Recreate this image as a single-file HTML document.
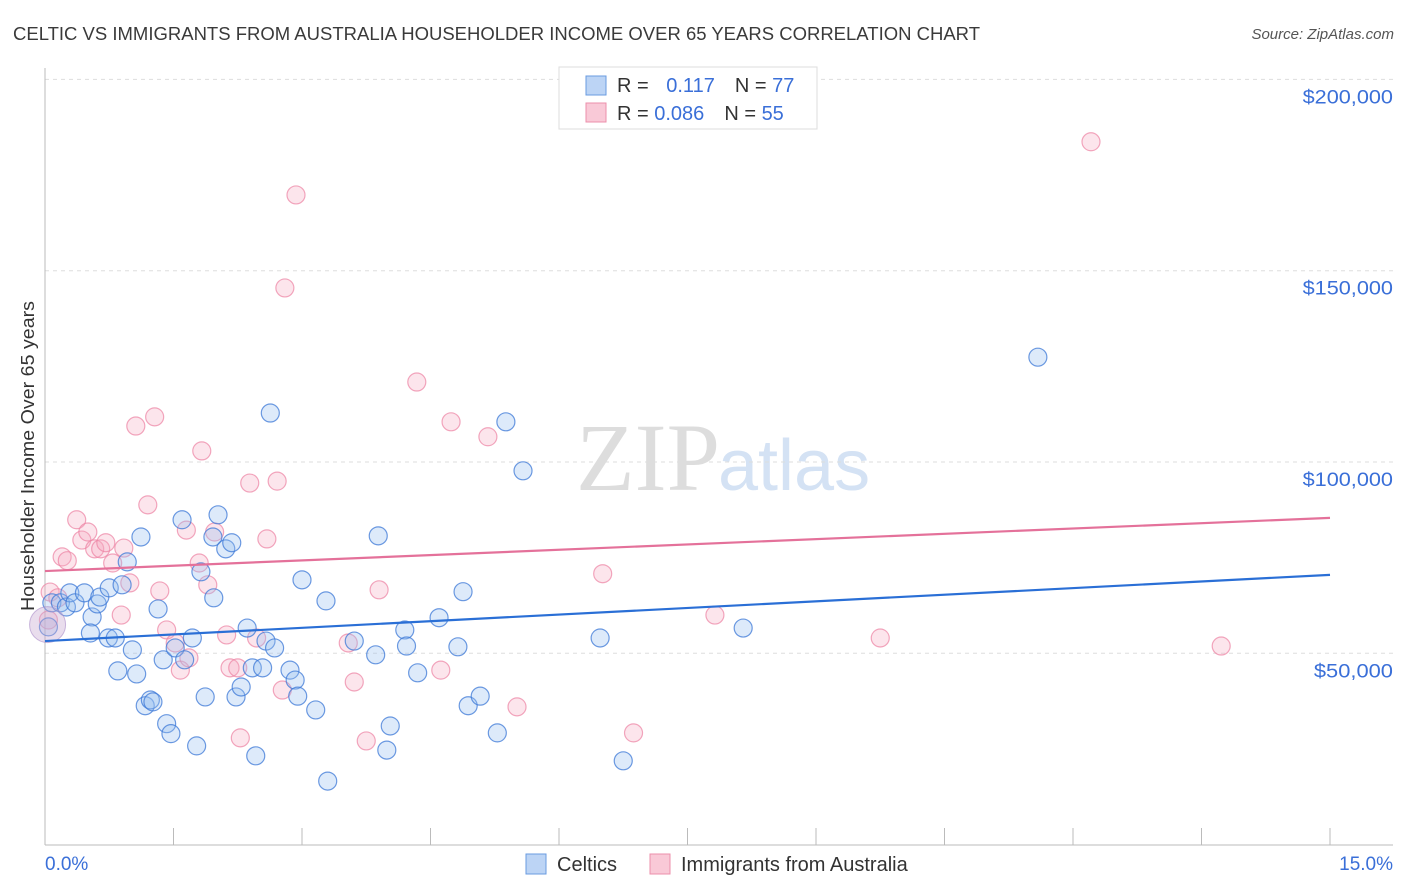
<!DOCTYPE html>
<html><head><meta charset="utf-8"><style>
body{margin:0;background:#fff;font-family:"Liberation Sans",sans-serif}
svg{display:block}
</style></head><body>
<svg width="1406" height="892" id="c">
<text x="13" y="40" font-size="18" fill="#3a3a3a" textLength="967" lengthAdjust="spacingAndGlyphs">CELTIC VS IMMIGRANTS FROM AUSTRALIA HOUSEHOLDER INCOME OVER 65 YEARS CORRELATION CHART</text>
<text x="1394" y="39" font-size="15" fill="#555" text-anchor="end" font-style="italic">Source: ZipAtlas.com</text>
<text x="720" y="490" font-size="96" fill="#ddd" text-anchor="end" font-family="Liberation Serif">ZIP</text>
<text x="718" y="490" font-size="72" fill="#d4e2f4">atlas</text>
<text transform="translate(34,456) rotate(-90)" font-size="18" fill="#333" text-anchor="middle" textLength="310" lengthAdjust="spacingAndGlyphs">Householder Income Over 65 years</text>
<g id="grid"></g><g id="pts"></g><g id="lines"></g>
<g>
<rect x="559" y="67" width="258" height="62" fill="#fff" stroke="#ddd"/>
<rect x="586" y="76" width="20" height="19" fill="#bcd4f5" stroke="#6a9be0"/>
<rect x="586" y="103" width="20" height="19" fill="#f9c9d7" stroke="#ec8fab"/>
<text x="617" y="92" font-size="20" fill="#333">R = <tspan fill="#3a6fd8" dx="12">0.117</tspan><tspan dx="20" fill="#333">N = </tspan><tspan fill="#3a6fd8">77</tspan></text>
<text x="617" y="120" font-size="20" fill="#333">R = <tspan fill="#3a6fd8">0.086</tspan><tspan dx="20" fill="#333">N = </tspan><tspan fill="#3a6fd8">55</tspan></text>
</g>
<text x="45" y="870" font-size="19" fill="#3a6fd8">0.0%</text>
<text x="1393" y="870" font-size="19" fill="#3a6fd8" text-anchor="end">15.0%</text>
<g><rect x="526" y="854" width="20" height="20" fill="#bcd4f5" stroke="#6a9be0"/><text x="557" y="871" font-size="20" fill="#333">Celtics</text></g>
<g><rect x="650" y="854" width="20" height="20" fill="#f9c9d7" stroke="#ec8fab"/><text x="681" y="871" font-size="20" fill="#333">Immigrants from Australia</text></g>
</svg>
<script>
const yTicks=[50000,100000,150000,200000];
const yTickLabels=["$50,000","$100,000","$150,000","$200,000"];
const xTicks=[0,1.5,3,4.5,6,7.5,9,10.5,12,13.5,15];
const celticsX=[.08,.18,.25,.29,.35,.46,.55,.53,.61,.64,.74,.75,.82,.85,.90,.96,1.02,1.07,1.12,1.17,1.23,1.26,1.32,1.38,1.42,1.47,1.52,1.60,1.63,1.72,1.77,1.82,1.87,1.96,1.97,2.02,2.11,2.18,2.23,2.29,2.36,2.42,2.46,2.54,2.63,2.58,2.68,2.86,2.92,2.95,3.00,3.16,3.28,3.30,3.61,3.86,3.89,4.03,3.99,4.20,4.22,4.35,4.60,4.82,4.88,4.94,5.08,5.28,5.38,5.58,6.48,6.75,8.15,11.59,.04];
const celticsY=[63200,63200,62100,65800,63200,65800,59500,55300,62900,64700,54000,67100,54000,45400,67900,73900,50900,44600,80400,36300,37800,37300,61600,48300,31600,29000,51400,84900,48300,54000,25800,71300,38600,80400,64500,86200,77300,78900,38600,41200,56600,46200,23200,46200,112800,53200,51400,45600,43000,38800,69200,35200,63700,16600,53200,49600,80700,31000,24700,56100,51900,44900,59300,51700,66100,36300,38800,29200,110500,97700,54000,21900,56600,127400,56900];
const ausX=[.06,.15,.20,.26,.37,.43,.50,.58,.65,.71,.79,.89,.92,.99,1.06,1.20,1.28,1.34,1.42,1.52,1.58,1.65,1.68,1.80,1.83,1.90,1.98,2.12,2.16,2.25,2.28,2.39,2.47,2.59,2.71,2.77,2.80,2.93,3.54,3.61,3.75,3.90,4.34,4.62,4.74,5.17,5.51,6.51,6.87,7.82,9.75,12.21,13.73,.04];
const ausY=[66000,64500,75200,74200,84900,79600,81700,77300,77300,78900,73600,60000,77500,68400,109400,88800,111800,66300,56100,52700,45600,82200,48800,73600,102900,67900,81700,54800,46200,46200,27900,94500,54000,79900,95000,40400,145500,169800,52700,42500,27100,66600,120900,45600,110500,106600,36000,70800,29200,60000,54000,183700,51900,58700];
const celticsTrend=[53200,70500];
const ausTrend=[71500,85400];
const NS="http://www.w3.org/2000/svg";
const sx=v=>45+v*(1285/15);
const sy=v=>844.6-v*(191.3/50000);
function mk(tag,attrs,parent){const e=document.createElementNS(NS,tag);for(const k in attrs)e.setAttribute(k,attrs[k]);parent.appendChild(e);return e;}
const grid=document.getElementById('grid');
yTicks.forEach((t,i)=>{
 const l=mk('line',{x1:45,x2:1393,y1:sy(t),y2:sy(t),stroke:'#ddd','stroke-dasharray':'4,4'},grid);
 
 
 const lab=yTickLabels[i];
 const tx=mk('text',{x:1393,y:sy(t)+24,'font-size':19,fill:'#3a6fd8','text-anchor':'end',textLength:lab.length*11.3,lengthAdjust:'spacingAndGlyphs'},grid);
 tx.textContent=lab;
 
 
});
const ax=mk('line',{x1:45,x2:45,y1:68,y2:845,stroke:'#bbb'},grid);


const bx=mk('line',{x1:45,x2:1393,y1:845,y2:845,stroke:'#bbb'},grid);


xTicks.forEach(t=>{
 const l=mk('line',{x1:sx(t),x2:sx(t),y1:828,y2:845,stroke:'#bbb'},grid);
 
 
});
const pts=document.getElementById('pts');
ausX.forEach((x,i)=>{
 const c=mk('circle',{cx:sx(x),cy:sy(ausY[i]),r:9,fill:'rgba(246,168,192,0.3)',stroke:'rgba(236,130,162,0.7)','stroke-width':1.2},pts);
 
 
});
celticsX.forEach((x,i)=>{
 const c=mk('circle',{cx:sx(x),cy:sy(celticsY[i]),r:9,fill:'rgba(150,190,240,0.32)',stroke:'rgba(60,120,215,0.75)','stroke-width':1.2},pts);
 
 
});
const big=mk('circle',{cx:sx(0.03),cy:sy(57500),r:18,fill:'rgba(200,170,210,0.4)',stroke:'rgba(170,140,200,0.6)'},pts);


const lines=document.getElementById('lines');
const l1=mk('line',{x1:sx(0),x2:sx(15),y1:sy(celticsTrend[0]),y2:sy(celticsTrend[1]),stroke:'#2a6fd6','stroke-width':2.2},lines);


const l2=mk('line',{x1:sx(0),x2:sx(15),y1:sy(ausTrend[0]),y2:sy(ausTrend[1]),stroke:'#e4719a','stroke-width':2.2},lines);


</script>
</body></html>
